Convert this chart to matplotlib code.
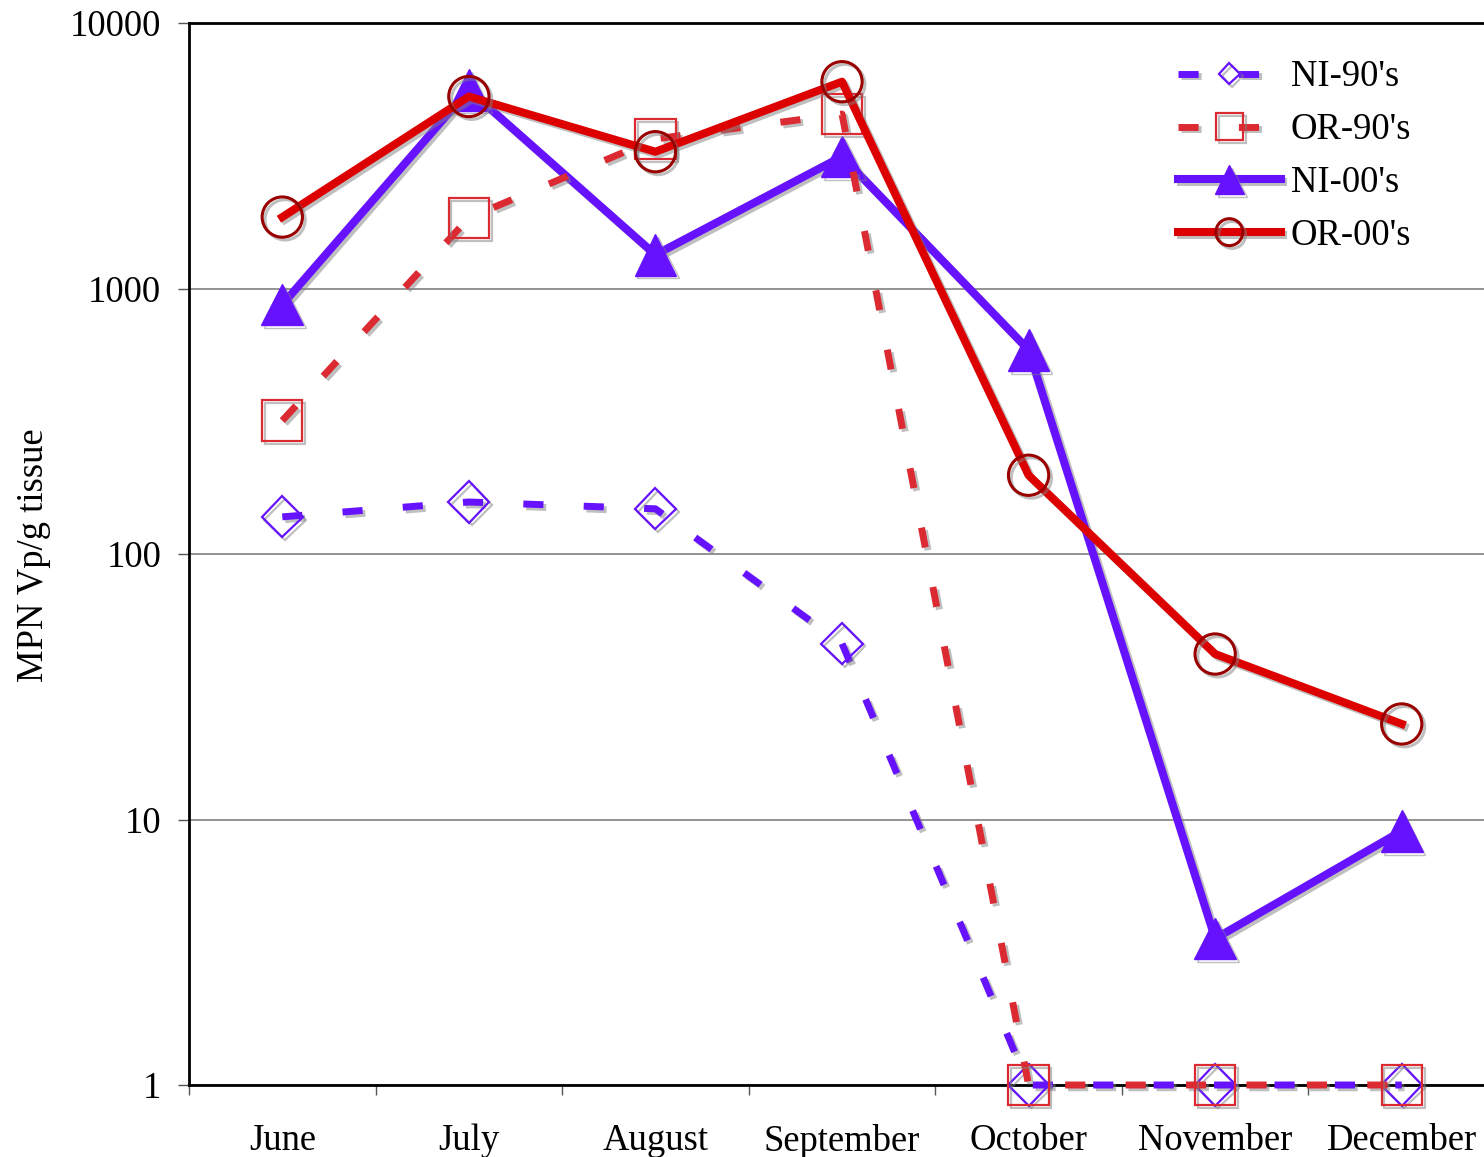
import numpy as np
import matplotlib.pyplot as plt
import matplotlib.patheffects as pe
from matplotlib.ticker import FixedLocator, FixedFormatter, NullFormatter

plt.rcParams['font.family'] = ['Liberation Serif', 'DejaVu Serif']

months = ['June', 'July', 'August', 'September', 'October', 'November', 'December']

# MPN Vp/g tissue, monthly
ni_90s = [138, 157, 148, 46, 1, 1, 1]
or_90s = [318, 1845, 3660, 4540, 1, 1, 1]
ni_00s = [870, 5600, 1340, 3140, 587, 3.56, 9.05]
or_00s = [1858, 5285, 3275, 6010, 198, 42, 22.9]

y_ticks = [1, 10, 100, 1000, 10000]
y_tick_labels = ['1', '10', '100', '1000', '10000']

purple = '#6612FF'
red = '#DC0000'
red_dash = '#DC2A32'

fs = 26.4
W, H = 1484, 1157
fig = plt.figure(figsize=(W / 100, H / 100), dpi=100)
ax = fig.add_axes([189 / W, 1 - 1085 / H, 1306 / W, (1085 - 23) / H])

x = np.arange(len(months))
shadow = [pe.SimpleLineShadow(offset=(2, -2), shadow_color='gray', alpha=0.5), pe.Normal()]
dash = (0, (2.9, 5.8))

l1, = ax.plot(x, ni_90s, color=purple, lw=5, linestyle=dash, marker='D', ms=21,
              mfc='none', mec=purple, mew=1.6, clip_on=False, zorder=3,
              path_effects=shadow, label="NI-90's")
l2, = ax.plot(x, or_90s, color=red_dash, lw=5, linestyle=dash, marker='s', ms=29,
              mfc='none', mec=red_dash, mew=1.6, clip_on=False, zorder=4,
              path_effects=shadow, label="OR-90's")
l3, = ax.plot(x, ni_00s, color=purple, lw=5.8, marker='^', ms=30,
              mfc=purple, mec=purple, mew=1, clip_on=False, zorder=2.5,
              path_effects=shadow, label="NI-00's")
l4, = ax.plot(x, or_00s, color=red, lw=5.8, marker='o', ms=29,
              mfc='none', mec='#990000', mew=2.2, clip_on=False, zorder=5,
              path_effects=shadow, label="OR-00's")

ax.set_yscale('log')
ax.set_ylim(1, 10000)
ax.set_xlim(-0.5, 6.5)

ax.yaxis.set_major_locator(FixedLocator(y_ticks))
ax.yaxis.set_major_formatter(FixedFormatter(y_tick_labels))
ax.yaxis.set_minor_locator(FixedLocator([]))
ax.yaxis.set_minor_formatter(NullFormatter())
ax.tick_params(axis='y', which='major', direction='out', length=8, width=1,
               color='#555555', labelsize=fs, pad=12)

ax.set_xticks(x)
ax.set_xticklabels(months)
ax.set_xticks(np.arange(-0.5, 7.0, 1.0), minor=True)
ax.tick_params(axis='x', which='major', length=0, labelsize=fs, pad=28)
ax.tick_params(axis='x', which='minor', direction='out', length=7, width=1, color='#555555')

ax.grid(axis='y', which='major', color='#808080', lw=1.2)
for side in ['left', 'top', 'bottom']:
    ax.spines[side].set_color('black')
    ax.spines[side].set_linewidth(2)
ax.spines['right'].set_visible(False)

fig.text(34 / W, 1 - 555 / H, 'MPN Vp/g tissue', rotation=90, ha='center',
         va='center', fontsize=fs)

leg = ax.legend(loc='upper left', bbox_to_anchor=(1178 / W, 1 - 60 / H),
                bbox_transform=fig.transFigure, frameon=False, fontsize=fs,
                numpoints=1, handlelength=2.8, handletextpad=0.28,
                labelspacing=0.5, borderpad=0, borderaxespad=0)
for line, ms in zip(leg.get_lines(), [10.7, 19.4, 21, 19.4]):
    line.set_markersize(ms)

fig.savefig('out.png', dpi=100)
